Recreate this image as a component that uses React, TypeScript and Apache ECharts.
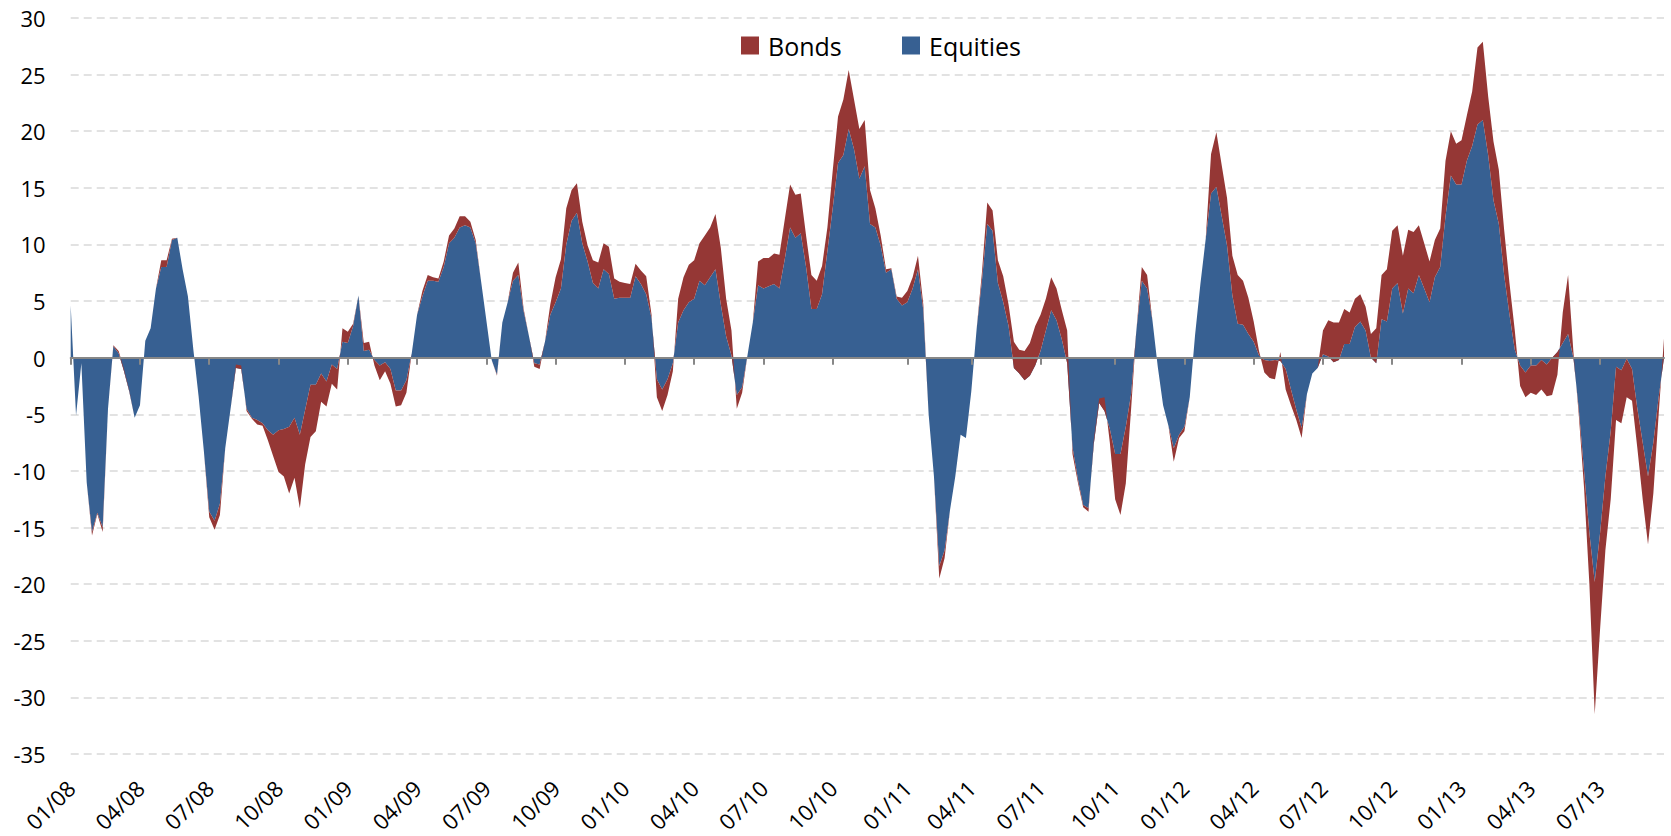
import React, { useEffect, useRef } from "react";
import * as echarts from "echarts";

// Weekly observations starting 1 Jan 2008
const START_UTC = Date.UTC(2008, 0, 1);
const WEEK_MS = 7 * 86400000;

const tickLabels = [
  "01/08", "04/08", "07/08", "10/08",
  "01/09", "04/09", "07/09", "10/09",
  "01/10", "04/10", "07/10", "10/10",
  "01/11", "04/11", "07/11", "10/11",
  "01/12", "04/12", "07/12", "10/12",
  "01/13", "04/13", "07/13",
];

// Equities contribution (blue area)
const equities = [
  4.6, -5.1, -0.5, -11.0, -15.4, -13.7, -15.0, -4.5, 1.0, 0.4,
  -1.2, -3.0, -5.3, -4.2, 1.5, 2.6, 6.1, 8.0, 8.0, 10.4,
  10.6, 7.8, 5.4, 0.8, -3.4, -8.3, -13.6, -14.4, -12.9, -8.0,
  -4.5, -0.9, -1.0, -4.5, -5.3, -5.5, -5.8, -6.4, -6.8, -6.4,
  -6.3, -6.1, -5.3, -6.8, -4.6, -2.4, -2.4, -1.4, -2.1, -0.6,
  -1.0, 1.4, 1.3, 2.8, 5.5, 0.6, 0.7, -0.2, -0.7, -0.4,
  -1.0, -2.9, -2.9, -2.0, 0.4, 3.8, 5.4, 6.8, 6.8, 6.7,
  8.0, 10.1, 10.6, 11.5, 11.7, 11.5, 10.1, 6.8, 3.3, -0.2,
  -1.5, 3.1, 4.9, 6.8, 7.3, 4.1, 1.9, -0.5, -0.6, 1.4,
  3.8, 4.9, 6.1, 10.0, 12.1, 12.8, 10.1, 8.5, 6.6, 6.1,
  7.8, 7.4, 5.2, 5.3, 5.3, 5.3, 7.2, 6.5, 5.6, 3.5,
  -1.9, -2.8, -1.9, -0.5, 3.1, 4.2, 4.9, 5.2, 6.8, 6.4,
  7.1, 7.8, 4.7, 1.9, 0.2, -3.3, -2.6, 0.2, 3.1, 6.4,
  6.1, 6.3, 6.5, 6.1, 8.7, 11.5, 10.6, 11.0, 8.0, 4.3,
  4.3, 5.6, 9.4, 13.2, 17.2, 17.9, 20.2, 18.4, 15.8, 16.9,
  11.8, 11.5, 9.9, 7.5, 7.8, 5.2, 4.6, 4.9, 6.1, 7.8,
  4.2, -5.0, -10.5, -18.4, -17.0, -13.5, -10.5, -6.8, -7.1, -3.0,
  2.5, 6.8, 11.8, 11.2, 6.6, 4.9, 2.8, -0.9, -1.4, -2.0,
  -1.6, -0.7, 0.6, 2.4, 4.2, 3.3, 1.6, -0.5, -7.9, -10.7,
  -13.0, -13.3, -7.6, -4.0, -4.7, -6.3, -8.5, -8.5, -6.1, -3.2,
  2.5, 6.8, 6.1, 3.3, -0.8, -4.2, -6.0, -8.0, -6.8, -6.1,
  -3.5, 2.0, 6.5, 10.5, 14.5, 15.1, 12.5, 9.9, 5.5, 3.0,
  2.9, 2.1, 1.4, 0.2, -0.2, -0.3, -0.2, -0.3, -1.0, -2.8,
  -4.6, -6.2, -3.2, -1.4, -0.9, 0.3, 0.1, -0.4, -0.2, 1.2,
  1.2, 2.7, 3.2, 2.4, 0.0, -0.5, 3.4, 3.2, 6.1, 6.6,
  3.9, 6.1, 5.7, 7.3, 6.1, 4.9, 7.1, 8.0, 12.5, 16.1,
  15.3, 15.3, 17.4, 18.7, 20.6, 21.0, 17.9, 13.9, 11.8, 7.3,
  3.8, 0.7, -0.7, -1.3, -0.7, -0.7, -0.2, -0.6, 0.0, 0.5,
  1.3, 2.1, 0.0, -4.5, -10.0, -15.5, -19.8, -15.5, -10.5, -6.5,
  -0.8, -1.1, -0.1, -1.0, -4.5, -7.5, -10.5, -7.5, -3.5, 0.0,
];

// Equities + Bonds (top edge of the red area)
const equitiesPlusBonds = [
  4.6, -5.1, -0.5, -11.0, -15.7, -13.8, -15.4, -4.5, 1.1, 0.6,
  -1.0, -2.9, -5.3, -4.2, 1.5, 2.6, 6.1, 8.6, 8.6, 10.5,
  10.6, 7.8, 5.4, 0.8, -3.4, -8.3, -14.1, -15.2, -13.9, -8.0,
  -4.5, -0.6, -0.7, -4.7, -5.4, -5.9, -6.0, -7.3, -8.7, -10.1,
  -10.5, -12.0, -10.6, -13.3, -9.4, -7.0, -6.5, -3.9, -4.3, -2.3,
  -2.8, 2.6, 2.3, 3.0, 5.5, 1.3, 1.4, -0.7, -2.0, -1.2,
  -2.3, -4.3, -4.2, -3.1, 0.4, 3.8, 5.9, 7.3, 7.1, 7.0,
  8.5, 10.8, 11.4, 12.5, 12.5, 12.0, 10.4, 6.8, 3.3, -0.2,
  -1.6, 3.1, 4.9, 7.5, 8.4, 4.3, 1.9, -0.8, -1.0, 1.4,
  4.7, 7.1, 8.7, 13.2, 14.8, 15.4, 12.0, 9.9, 8.6, 8.4,
  10.1, 9.8, 7.0, 6.7, 6.6, 6.5, 8.3, 7.7, 7.2, 3.8,
  -3.5, -4.7, -3.3, -1.2, 5.2, 7.1, 8.2, 8.6, 10.1, 10.8,
  11.5, 12.7, 9.7, 5.2, 2.4, -4.5, -3.1, 0.2, 3.1, 8.5,
  8.8, 8.8, 9.2, 9.1, 12.2, 15.3, 14.4, 14.5, 10.8, 7.3,
  6.8, 8.1, 11.5, 16.5, 21.3, 22.8, 25.4, 22.8, 20.2, 21.0,
  14.8, 13.2, 10.8, 7.8, 7.9, 5.4, 5.3, 5.9, 7.1, 9.0,
  4.7, -5.0, -10.5, -19.5, -17.7, -13.5, -10.5, -6.8, -7.1, -3.0,
  2.5, 7.5, 13.7, 13.0, 8.6, 7.2, 4.7, 1.4, 0.7, 0.6,
  1.3, 2.8, 3.8, 5.2, 7.1, 6.1, 4.2, 2.4, -8.5, -11.0,
  -13.2, -13.6, -7.2, -3.6, -3.5, -7.5, -12.5, -13.9, -11.1, -4.5,
  2.5, 8.0, 7.3, 3.3, -0.8, -4.2, -6.0, -9.2, -7.1, -6.5,
  -3.5, 2.0, 6.5, 10.5, 18.0, 19.9, 17.0, 14.1, 9.0, 7.3,
  6.8, 5.3, 3.2, 0.6, -1.3, -1.8, -1.9, 0.5, -2.8, -4.2,
  -5.5, -7.1, -3.2, -1.4, -0.9, 2.4, 3.3, 3.1, 3.1, 4.3,
  4.0, 5.2, 5.6, 4.5, 2.1, 2.6, 7.3, 7.8, 11.2, 11.7,
  9.0, 11.3, 11.1, 11.7, 10.1, 8.5, 10.4, 11.4, 17.4, 20.0,
  18.9, 19.2, 21.4, 23.5, 27.4, 27.9, 23.1, 19.1, 16.6, 11.3,
  6.6, 2.4, -2.5, -3.5, -3.1, -3.3, -2.8, -3.4, -3.3, -1.5,
  4.0, 7.3, 0.5, -5.0, -11.5, -20.0, -31.5, -24.0, -17.0, -12.5,
  -5.5, -5.8, -3.5, -3.8, -8.0, -12.5, -16.5, -12.0, -5.0, 1.7,
];

const BLUE = "#376092";
const RED = "#953735";
const FONT = "Open Sans";

const pad2 = (n: number) => (n < 10 ? "0" + n : "" + n);

const weekDates: string[] = equities.map((_, i) => {
  const d = new Date(START_UTC + i * WEEK_MS);
  return `${d.getUTCFullYear()}-${pad2(d.getUTCMonth() + 1)}-${pad2(d.getUTCDate())}`;
});

// quarter-start tick positions (nearest weekly observation)
const tickAt: Record<number, string> = {};
tickLabels.forEach((lbl) => {
  const [mm, yy] = lbl.split("/");
  const t = Date.UTC(2000 + Number(yy), Number(mm) - 1, 1);
  tickAt[Math.round((t - START_UTC) / WEEK_MS)] = lbl;
});

const bonds = equitiesPlusBonds.map((t, i) => Math.round((t - equities[i]) * 100) / 100);

const isTick = (index: number) => tickAt[index] !== undefined;

export default function App() {
  const ref = useRef<HTMLDivElement>(null);

  useEffect(() => {
    if (!ref.current) return;
    const chart = echarts.init(ref.current, undefined, { renderer: "svg" });
    const lastIdx = weekDates.length - 1;
    chart.setOption({
      animation: false,
      backgroundColor: "#ffffff",
      textStyle: { fontFamily: FONT },
      legend: [
        {
          data: ["Bonds"],
          left: 741,
          top: 33,
          padding: 0,
          icon: "rect",
          itemWidth: 18,
          itemHeight: 18,
          selectedMode: false,
          textStyle: { fontSize: 25, color: "#000", fontFamily: FONT, padding: [0, 0, 0, 4] },
        },
        {
          data: ["Equities"],
          left: 902,
          top: 33,
          padding: 0,
          icon: "rect",
          itemWidth: 18,
          itemHeight: 18,
          selectedMode: false,
          textStyle: { fontSize: 25, color: "#000", fontFamily: FONT, padding: [0, 0, 0, 4] },
        },
      ],
      grid: { left: 70.7, right: 7, top: 18, bottom: 82, containLabel: false },
      xAxis: [
        {
          type: "category",
          data: weekDates,
          boundaryGap: false,
          min: 0,
          max: lastIdx,
          axisLine: { show: false, onZero: false },
          axisTick: { show: false },
          splitLine: { show: false },
          axisLabel: {
            interval: (index: number) => isTick(index),
            formatter: (_v: string, index: number) => tickAt[index] ?? "",
            rotate: 45,
            margin: 30,
            fontSize: 22,
            color: "#000",
            fontFamily: FONT,
          },
        },
        {
          type: "category",
          data: weekDates,
          boundaryGap: false,
          min: 0,
          max: lastIdx,
          position: "bottom",
          z: 10,
          axisLine: { show: true, onZero: true, onZeroAxisIndex: 0, lineStyle: { color: "#878787", width: 2 } },
          axisTick: {
            show: true,
            interval: (index: number) => isTick(index),
            length: 7,
            lineStyle: { color: "#878787", width: 2 },
          },
          axisLabel: { show: false },
          splitLine: { show: false },
        },
      ],
      yAxis: {
        type: "value",
        min: -35,
        max: 30,
        interval: 5,
        axisLine: { show: false },
        axisTick: { show: false },
        axisLabel: { fontSize: 22, color: "#000", margin: 25, fontFamily: FONT },
        splitLine: { lineStyle: { color: "#d9d9d9", width: 1.5, type: [8, 5] } },
      },
      series: [
        {
          name: "Equities",
          type: "line",
          xAxisIndex: 0,
          stack: "flows",
          stackStrategy: "all",
          data: equities,
          showSymbol: false,
          symbol: "none",
          silent: true,
          lineStyle: { width: 0 },
          itemStyle: { color: BLUE },
          areaStyle: { color: BLUE, opacity: 1 },
        },
        {
          name: "Bonds",
          type: "line",
          xAxisIndex: 0,
          stack: "flows",
          stackStrategy: "all",
          data: bonds,
          showSymbol: false,
          symbol: "none",
          silent: true,
          lineStyle: { width: 0 },
          itemStyle: { color: RED },
          areaStyle: { color: RED, opacity: 1 },
        },
      ],
    });
    return () => chart.dispose();
  }, []);

  return (
    <div
      ref={ref}
      style={{ position: "absolute", left: 0, top: 0, width: 1671, height: 836, background: "#fff" }}
    />
  );
}
